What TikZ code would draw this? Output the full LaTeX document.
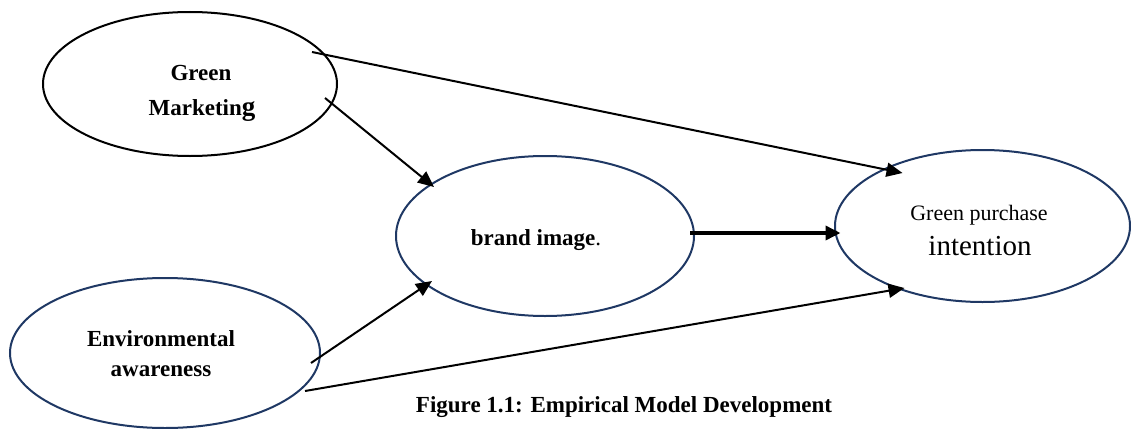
\documentclass[tikz,border=0pt]{standalone}
\usepackage{fontspec}
\setmainfont{Liberation Serif}
\usetikzlibrary{shapes.geometric,arrows.meta,calc}
\definecolor{navy}{HTML}{1F3864}
\begin{document}
\begin{tikzpicture}[x=1pt,y=-1pt,
  bubble/.style={ellipse,draw=navy,line width=2pt,inner sep=0pt},
  word/.style={anchor=base,inner sep=0pt,font=\fontsize{23}{28}\selectfont\bfseries},
  link/.style={line width=2pt,-{Triangle[length=16pt,width=14pt]}},
  mainlink/.style={line width=3.5pt,-{Triangle[length=15pt,width=14pt]}},
]
\useasboundingbox (0,0) rectangle (1131,428);

% constructs
\node[bubble,draw=black,minimum width=294pt,minimum height=144pt] (gm) at (190,84) {};
\node[bubble,minimum width=298pt,minimum height=160pt] (bi) at (545,236) {};
\node[bubble,minimum width=310pt,minimum height=150pt] (ea) at (165,353) {};
\node[bubble,minimum width=295pt,minimum height=152pt] (gpi) at (982.5,226) {};

% construct names
\node[word] (gm1) at (201,80) {Green};
\node[word] (gm2) at (202,115) {Marketin{\fontsize{27}{28}\selectfont g}};
\node[word] (bit) at (536,245) {brand image\mdseries.};
\node[word] (ea1) at (161,346) {Environmental};
\node[word] (ea2) at (161,376) {awareness};
\node[word,font=\fontsize{22}{28}\selectfont] (gpi1) at (979,220) {Green purchase};
\node[word,font=\fontsize{29}{32}\selectfont] (gpi2) at (980,255) {intention};

% paths
\draw[link] ($(gm.center)+(122,-32)$) -- ($(gpi.center)+(-80,-53)$);
\draw[link] ($(gm.center)+(135,14)$) -- ($(bi.center)+(-111,-49)$);
\draw[mainlink] ($(bi.center)+(145,-3)$) -- ($(gpi.center)+(-142,7)$);
\draw[link] ($(ea.center)+(146,10)$) -- ($(bi.center)+(-113,45)$);
\draw[link] ($(ea.center)+(140,38)$) -- ($(gpi.center)+(-78,62)$);

% caption
\node[word] (cap) at (624,412) {Figure 1.1: Empirical Model Development};
\end{tikzpicture}
\end{document}
